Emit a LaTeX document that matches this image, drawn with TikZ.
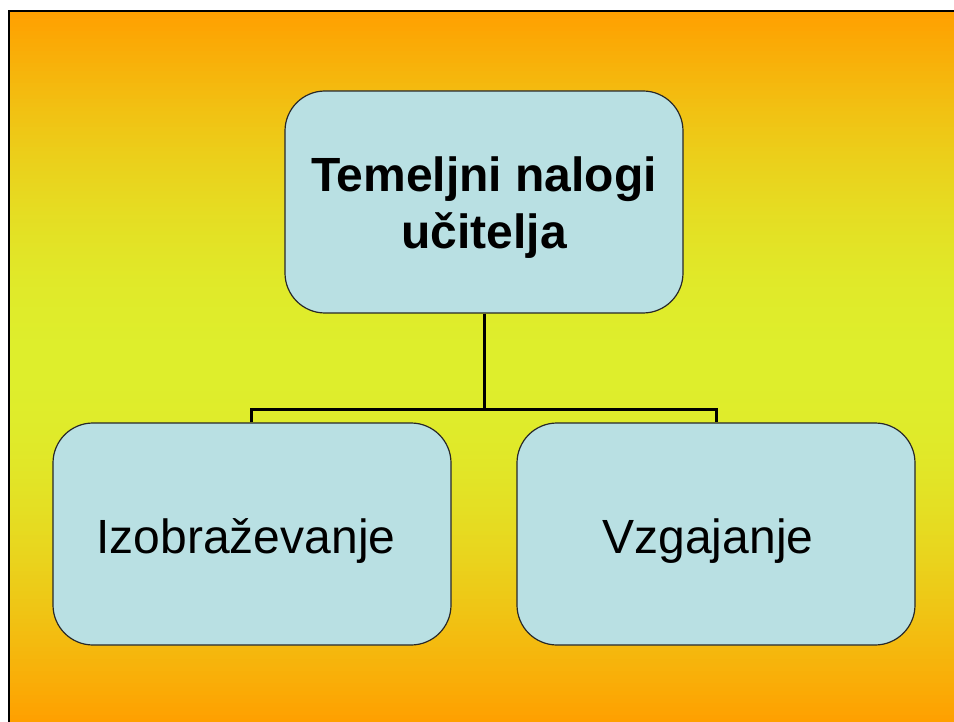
\documentclass[tikz,border=0pt]{standalone}
\usepackage{fontspec}
\setmainfont{Liberation Sans}
\definecolor{orangeA}{RGB}{255,160,0}
\definecolor{yellowB}{RGB}{222,238,44}
\definecolor{boxfill}{RGB}{185,224,227}
\definecolor{boxline}{RGB}{40,40,40}
\tikzset{
  card/.style={draw=boxline, line width=1.2pt, fill=boxfill, rounded corners=40pt,
    minimum width=398pt, minimum height=222pt, inner sep=0pt},
  conn/.style={line width=3pt, draw=black},
  boldlbl/.style={font=\fontsize{48}{57}\selectfont\bfseries, anchor=base, inner sep=0pt},
  plainlbl/.style={font=\fontsize{48}{57}\selectfont, anchor=base, inner sep=0pt}
}
\begin{document}
\begin{tikzpicture}[x=1pt,y=-1pt]
\useasboundingbox (0,0) rectangle (954,722);
\fill[white] (0,0) rectangle (954,722);
% vertical gradient orange -> yellow -> orange, drawn as thin bands
\foreach \i in {0,...,88} {
  \pgfmathsetmacro{\ya}{11+4*\i}
  \pgfmathsetmacro{\yb}{\ya+4.6}
  \pgfmathsetmacro{\p}{100*sin(90*\i/88)}
  \fill[yellowB!\p!orangeA] (9,\ya) rectangle (954,\yb);
}
\foreach \i in {0,...,89} {
  \pgfmathsetmacro{\ya}{363+4*\i}
  \pgfmathsetmacro{\yb}{\ya+4.6}
  \pgfmathsetmacro{\p}{100*cos(90*\i/89)}
  \fill[yellowB!\p!orangeA] (9,\ya) rectangle (954,\yb);
}
\draw[line width=2.2pt, black] (9,722) -- (9,11) -- (954,11);
\node[card] (top) at (484,202) {};
\node[card] (left) at (252,534) {};
\node[card] (right) at (716,534) {};
\node[boldlbl] (t1) at (484,192) {Temeljni nalogi};
\node[boldlbl] (t2) at (484,249) {učitelja};
\node[plainlbl] (l1) at (246,553) {Izobraževanje};
\node[plainlbl] (r1) at (708,553) {Vzgajanje};
\coordinate (hub) at (484,409);
\draw[conn] (top.south) -- (hub);
\draw[conn] (left.north) ++(-1,0) |- (hub) -| (right.north);
\end{tikzpicture}
\end{document}
